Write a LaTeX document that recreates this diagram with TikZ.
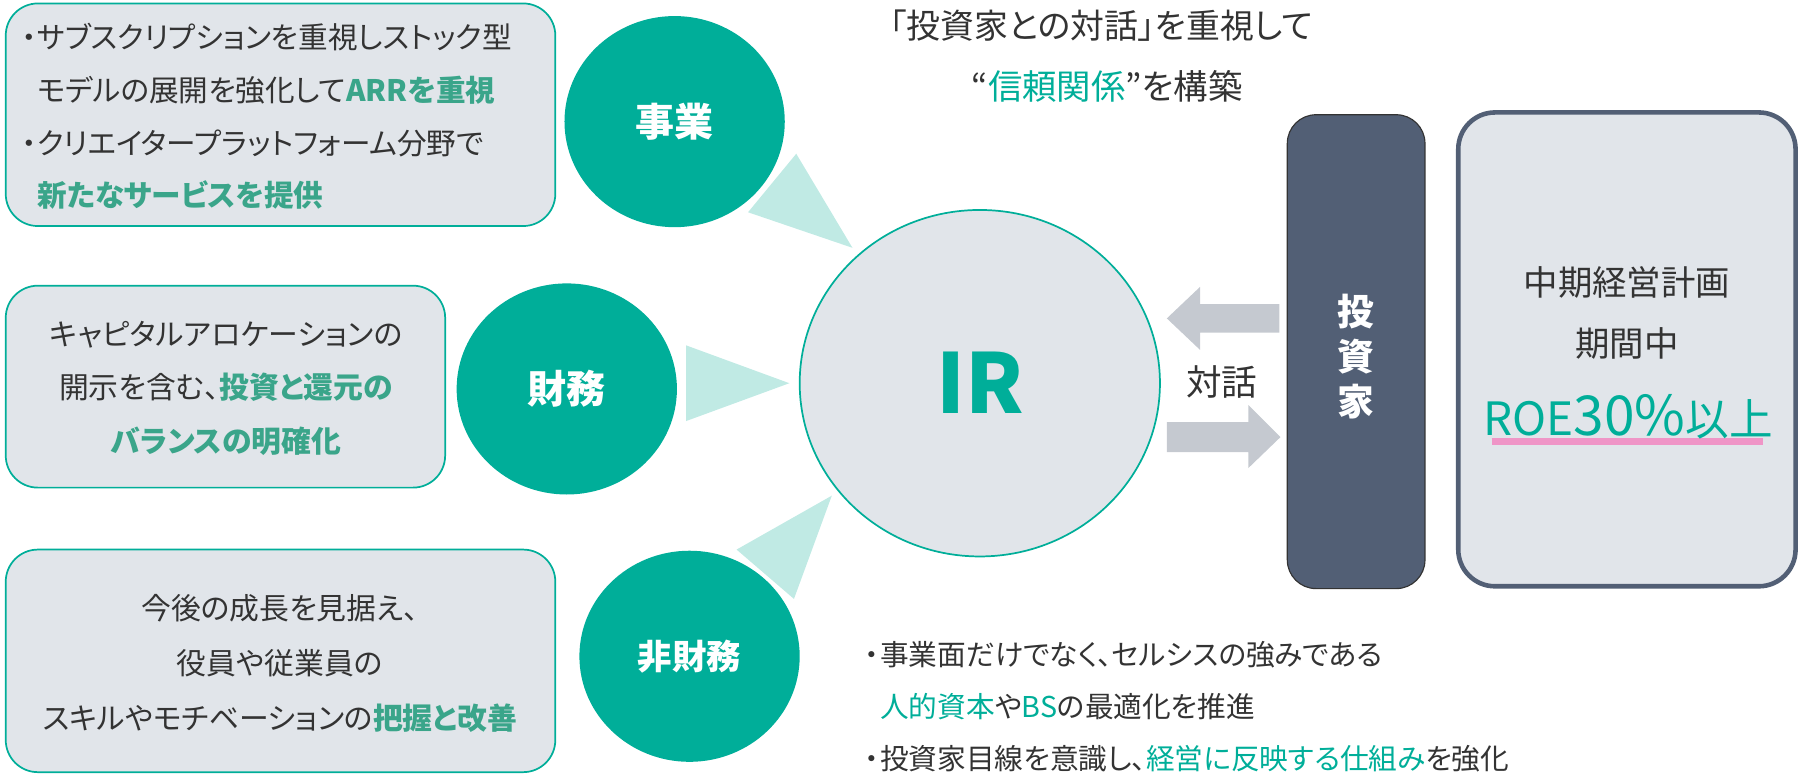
\documentclass[tikz,border=0pt]{standalone}
\usepackage{fontspec}
\setmainfont{Noto Sans CJK JP}[RawFeature={+palt}]
\usetikzlibrary{shapes.geometric}
\definecolor{tealc}{HTML}{00AE99}
\definecolor{tealtxt}{HTML}{3AA58A}
\definecolor{trif}{HTML}{C0EAE4}
\definecolor{boxfill}{HTML}{E1E5EA}
\definecolor{arrgray}{HTML}{C5C9D0}
\definecolor{slate}{HTML}{525F75}
\definecolor{txt}{HTML}{333333}
\definecolor{pinkc}{HTML}{EF95C7}
\begin{document}
\begin{tikzpicture}[x=1pt,y=-1pt,
  tbox/.style={draw=tealc, line width=1.5pt, fill=boxfill, rounded corners=28pt, inner sep=0},
  disc/.style={ellipse, fill=tealc, inner sep=0, minimum width=192pt, minimum height=184pt, text=white},
  trishape/.style={fill=trif},
  arrshape/.style={fill=arrgray},
  body/.style={text=txt, inner sep=0}]
\useasboundingbox (0,0) rectangle (1568,675);

% left text boxes
\node[tbox, minimum width=479pt, minimum height=194pt] (b1) at (244.5,100) {};
\node[tbox, minimum width=383pt, minimum height=176pt] (b2) at (196.5,337) {};
\node[tbox, minimum width=479pt, minimum height=194pt] (b3) at (244.5,576) {};

\node[body, anchor=west, align=left, font=\fontsize{25.8}{46}\selectfont] (t1) at (18,101.5)
 {\makebox[0.55em]{・}サブスクリプションを重視しストック型\\
  \hspace*{0.55em}モデルの展開を強化して\textcolor{tealtxt}{\bfseries ARRを重視}\\
  \makebox[0.55em]{・}クリエイタープラットフォーム分野で\\
  \hspace*{0.55em}\textcolor{tealtxt}{\bfseries 新たなサービスを提供}};

\node[body, align=center, font=\fontsize{26}{46.5}\selectfont] (t2) at (197,338.5)
 {キャピタルアロケーションの\\
  開示を含む、\textcolor{tealtxt}{\bfseries 投資と還元の}\\
  \textcolor{tealtxt}{\bfseries バランスの明確化}};

\node[body, align=center, font=\fontsize{26}{48}\selectfont] (t3) at (244,578)
 {今後の成長を見据え、\\
  役員や従業員の\\
  スキルやモチベーションの\textcolor{tealtxt}{\bfseries 把握と改善}};

% green discs
\node[disc, font=\fontsize{34}{34}\selectfont\bfseries] (c1) at (588,106) {事業};
\node[disc, font=\fontsize{34}{34}\selectfont\bfseries] (c2) at (494,339) {財務};
\node[disc, font=\fontsize{30}{30}\selectfont\bfseries] (c3) at (601,572) {非財務};

% IR
\node[ellipse, draw=tealc, line width=1.5pt, fill=boxfill, minimum width=314pt, minimum height=302pt,
      inner sep=0, text=tealc, font=\fontsize{72}{72}\selectfont\bfseries] (ir) at (854,334) {IR};

% triangles
\fill[trishape] (652,185) -- (694,134) -- (743,216) -- cycle;
\fill[trishape] (598,301) -- (598,367) -- (688,334) -- cycle;
\fill[trishape] (642,479) -- (725,432) -- (692,522) -- cycle;

% title
\node[body, font=\fontsize{29.5}{29.5}\selectfont] (h1) at (960,22) {「投資家との対話」を重視して};
\node[body, font=\fontsize{30}{30}\selectfont] (h2) at (965,75) {“\textcolor{tealc}{信頼関係}”を構築};

% investor box
\node[draw=black!80, line width=1pt, fill=slate, rounded corners=25pt, minimum width=120pt,
      minimum height=413pt, inner sep=0] (inv) at (1182,306.5) {};
\node[text=white, align=center, inner sep=0, font=\fontsize{32}{39}\selectfont\bfseries] (invt) at (1182,311) {投\\資\\家};

% arrows
\fill[arrshape] (1115,265) -- (1046,265) -- (1046,250) -- (1017,277.5) -- (1046,305) -- (1046,290) -- (1115,290) -- cycle;
\fill[arrshape] (1017,368) -- (1088,368) -- (1088,353) -- (1116,381) -- (1088,408) -- (1088,394) -- (1017,394) -- cycle;
\node[body, font=\fontsize{31}{31}\selectfont] (dlg) at (1065,333) {対話};

% plan box
\node[draw=slate, line width=4pt, fill=boxfill, rounded corners=32pt, minimum width=294pt,
      minimum height=413pt, inner sep=0] (plan) at (1418,304.5) {};
\node[body, font=\fontsize{30}{30}\selectfont] (p1) at (1418,246) {中期経営計画};
\node[body, font=\fontsize{30}{30}\selectfont] (p2) at (1418,299) {期間中};
\draw[pinkc, line width=6pt] (1300,385) -- (1537,385);
\node[inner sep=0, text=tealc] (p3) at (1419,363)
 {\fontsize{40}{40}\selectfont ROE\fontsize{48}{48}\selectfont 30\%\fontsize{38}{38}\selectfont 以上};

% bottom text
\node[body, anchor=west, align=left, font=\fontsize{25}{45}\selectfont] (bt) at (752,616)
 {\makebox[0.6em]{・}事業面だけでなく、セルシスの強みである\\
  \hspace*{0.6em}\textcolor{tealc}{人的資本}や\textcolor{tealc}{BS}の最適化を推進\\
  \makebox[0.6em]{・}投資家目線を意識し、\textcolor{tealc}{経営に反映する仕組み}を強化};
\end{tikzpicture}
\end{document}
